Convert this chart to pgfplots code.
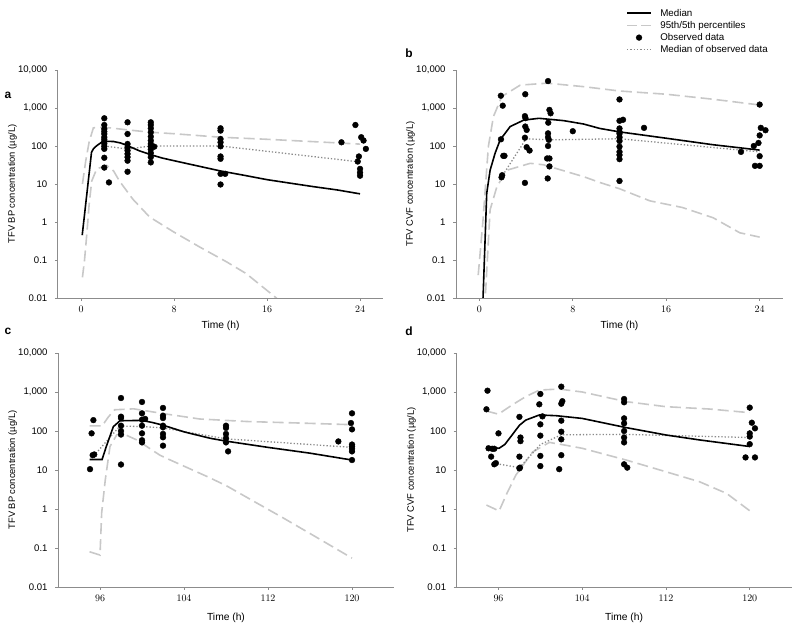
\documentclass[border=0pt]{standalone}
\usepackage{fontspec}
\setmainfont{Liberation Sans}
\usepackage{pgfplots}
\pgfplotsset{compat=1.18}
\definecolor{axgray}{HTML}{8C8C8C}
\definecolor{dgray}{HTML}{C8C8C8}
\definecolor{tgray}{HTML}{8A8A8A}
\pgfplotsset{
  /pgfplots/chartpanel/.style={
    scale only axis,
    axis lines=left, axis line style={draw=axgray, line width=0.8bp, -},
    tick align=outside, major tick length=3bp, tick style={draw=axgray, line width=0.8bp},
    yminorticks=false, xminorticks=false,
    ytick={0.01,0.1,1,10,100,1000,10000},
    yticklabels={0.01,0.1,1,10,100,{1,000},{10,000}},
    ticklabel style={font=\fontsize{9.6}{10}\selectfont, text=black},
    yticklabel style={xshift=-4bp},
    xticklabel style={yshift=-2bp},
    label style={font=\fontsize{9.4}{10}\selectfont, text=black},
    xlabel={Time (h)},
    xlabel style={at={(axis description cs:0.5,0)}, anchor=center, yshift=-28bp, font=\fontsize{10.3}{11}\selectfont},
  },
  /pgfplots/medl/.style={black, line width=1.6bp, mark=none},
  /pgfplots/pctl/.style={dgray, line width=1.6bp, dash pattern=on 11bp off 5bp, mark=none},
  /pgfplots/obsm/.style={only marks, mark=*, mark size=2.9bp, black},
  /pgfplots/omedl/.style={tgray, line width=1.3bp, dash pattern=on 1.3bp off 2bp, mark=none},
  /pgfplots/lineleg/.style={legend image code/.code={\draw[##1] (0bp,0bp) -- (24bp,0bp);}},
  /pgfplots/dotleg/.style={legend image code/.code={\draw[mark repeat=2,mark phase=2,##1] plot coordinates {(0bp,0bp) (12bp,0bp) (24bp,0bp)};}},
}
\begin{document}
\begin{tikzpicture}[x=1bp,y=1bp]
\path[use as bounding box] (0,0) rectangle (800,630);

% ---------------- panel a ----------------
\begin{axis}[ymode=log, ymin=0.01, ymax=10000, chartpanel, at={(57.8bp,332bp)}, anchor=south west, width=325.5bp, height=228bp,
  xmin=-2, xmax=26, xtick={0,8,16,24},
  ylabel={TFV BP concentration (µg/L)},
  ylabel style={at={(axis description cs:-0.139,0.5)}, anchor=center}]
\addplot[pctl] coordinates {(0.12,10) (0.4,40) (0.7,130) (1.06,300) (1.5,310) (2.5,300) (4,265) (6,230) (8,210) (12,170) (16,150) (20,130) (24,112)};
\addplot[pctl] coordinates {(0.12,0.035) (0.3,0.1) (0.5,0.5) (0.7,3) (0.92,12) (1.35,25) (2.2,31) (2.8,22) (3.3,12) (4.45,4) (5.9,1.35) (8,0.54) (10.2,0.22) (12.5,0.09) (14.2,0.044) (16.8,0.01) (17.5,0.006)};
\addplot[omedl] coordinates {(2,100) (4,83) (6,100) (12,100) (24,38)};
\addplot[medl] coordinates {(0.1,0.45) (0.9,68) (1.06,84) (1.35,102) (1.78,126) (2.2,133) (2.8,131) (3.4,120) (4,102) (5,75) (6,59) (7,48) (8,41) (10,30) (12,22) (14,17) (16,13) (18,10.5) (20,8.5) (22,7) (24,5.5)};
\addplot[obsm] coordinates {
(2,536) (2,357) (2,281) (2,240) (2,207) (2,170) (2,150) (2,131) (2,115) (2,98) (2,84) (2,49) (2,27) (2.4,11)
(4,420) (4,207) (4,113) (4,93) (4,76) (4,62) (4,51) (4,41) (4,21)
(6,420) (6,357) (6,292) (6,230) (6,177) (6,139) (6,113) (6,96) (6,81) (6,65) (6,51) (6,37) (6.3,96)
(12,292) (12,254) (12,153) (12,125) (12,98) (12,53) (12,46) (12,18.5) (12,9.7) (12.4,18.5)
(23.6,357) (22.4,125) (24.1,170) (24.3,139) (24.5,84) (23.9,53) (24,25) (24,20) (24,16.5) (23.8,39)};
\end{axis}

% ---------------- panel b ----------------
\begin{axis}[ymode=log, ymin=0.01, ymax=10000, chartpanel, at={(456bp,332bp)}, anchor=south west, width=327bp, height=228bp,
  xmin=-2, xmax=26, xtick={0,8,16,24},
  ylabel={TFV CVF concentration (µg/L)},
  ylabel style={at={(axis description cs:-0.139,0.5)}, anchor=center},
  legend style={draw=none, fill=none, at={(axis description cs:0.52,1.275)}, anchor=north west,
    font=\fontsize{9.8}{11}\selectfont, row sep=0.6bp, inner sep=0pt, nodes={inner sep=1.5bp},
    /tikz/every odd column/.append style={column sep=7bp}},
  legend cell align=left]
\addlegendimage{medl, lineleg}
\addlegendentry{Median}
\addlegendimage{pctl, dash pattern=on 10bp off 4bp, lineleg}
\addlegendentry{95th/5th percentiles}
\addlegendimage{obsm, dotleg}
\addlegendentry{Observed data}
\addlegendimage{omedl, lineleg}
\addlegendentry{Median of observed data}
\addplot[pctl, forget plot] coordinates {(-0.1,0.04) (0.3,1) (0.77,96) (1.2,590) (1.92,2000) (3.5,4000) (5.8,4500) (8.9,3650) (12,2800) (16,2300) (20,1700) (24,1200)};
\addplot[pctl, forget plot] coordinates {(0.45,0.005) (0.92,2.1) (1.5,8.5) (2.35,23) (4.36,35) (5.5,32) (8.95,15.5) (10.3,11) (12,7.5) (14.6,3.6) (17.4,2.4) (20,1.3) (22.3,0.52) (24,0.4)};
\addplot[omedl, forget plot] coordinates {(2,17) (4,155) (6,145) (12,155) (24,70)};
\addplot[medl, forget plot] coordinates {(0.28,0.005) (0.63,5.7) (0.92,23) (1.35,65) (1.78,145) (2.64,325) (3.8,480) (5.1,535) (7.2,465) (8.9,380) (10.3,290) (12,235) (16,160) (20,108) (24,78)};
\addplot[obsm, forget plot] coordinates {
(1.84,2100) (2.0,1150) (1.85,150) (2.05,55) (2.15,55) (1.95,17) (1.9,15)
(3.93,2300) (3.9,610) (3.95,540) (3.93,325) (4.05,265) (3.9,165) (4.05,93) (4.3,76) (3.9,10.7)
(5.88,5100) (6.0,890) (6.1,725) (5.9,410) (5.88,215) (5.88,170) (5.95,145) (5.88,100) (5.8,47) (6.0,47) (6.0,29) (5.85,14)
(8,245)
(12,1680) (12,460) (12.3,490) (12,290) (12,235) (12,210) (12,170) (12,135) (12,96) (12,70) (12,58) (12,45) (12,12)
(14.1,300)
(24,1230) (24.1,300) (24.5,260) (24,190) (23.9,120) (23.5,100) (22.4,70) (24,54) (23.6,30) (24,30)};
\end{axis}

% ---------------- panel c ----------------
\begin{axis}[ymode=log, ymin=0.01, ymax=10000, chartpanel, at={(58bp,43bp)}, anchor=south west, width=336bp, height=234bp,
  xmin=92, xmax=124, xtick={96,104,112,120},
  ylabel={TFV BP concentration (µg/L)},
  ylabel style={at={(axis description cs:-0.135,0.5)}, anchor=center},
  xlabel style={yshift=-3bp}]
\addplot[pctl] coordinates {(95,135) (96.2,135) (96.8,230) (97.4,350) (99.2,370) (102.3,272) (105.5,203) (110,175) (115,160) (120,145)};
\addplot[pctl] coordinates {(95,0.08) (96,0.066) (96.16,0.8) (96.5,5.5) (96.95,40) (97.6,80) (98.2,85) (99.5,59) (101.7,24) (102.7,18) (106.2,6.8) (108,4) (110.6,1.6) (113.4,0.6) (116.9,0.17) (120,0.055)};
\addplot[omedl] coordinates {(95.4,23) (97.9,134) (100,130) (102,120) (108,63) (120,38)};
\addplot[medl] coordinates {(95,18.6) (96.2,18.6) (96.6,40) (97.27,129) (97.9,183) (99.97,187) (101,165) (102,141) (104,95) (106.5,65) (108,55) (112,38) (116,27) (120,18)};
\addplot[obsm] coordinates {
(95.05,10.5) (95.2,87) (95.37,190) (95.3,24) (95.45,25)
(98,700) (98,233) (98,215) (98,137) (98,100) (98,81) (98,13.8)
(100,555) (100,284) (100.3,204) (100,195) (100,137) (100,87) (100,58) (100,51)
(102,390) (102,247) (102,215) (102,137) (102,124) (102,84) (102,69) (102,42)
(108,137) (108,120) (108,84) (108,65) (108,51) (108.2,30)
(118.7,54)
(120,284) (119.9,160) (120,110) (120,45) (120,40) (120,35) (120,30) (120,18)};
\end{axis}

% ---------------- panel d ----------------
\begin{axis}[ymode=log, ymin=0.01, ymax=10000, chartpanel, at={(456.6bp,43bp)}, anchor=south west, width=335bp, height=234bp,
  xmin=92, xmax=124, xtick={96,104,112,120},
  ylabel={TFV CVF concentration (µg/L)},
  ylabel style={at={(axis description cs:-0.135,0.5)}, anchor=center},
  xlabel style={yshift=-3bp}]
\addplot[pctl] coordinates {(94.85,325) (96,270) (97.3,465) (98.6,760) (99.9,1120) (101.8,1190) (104,1000) (108.2,565) (112,420) (116.2,365) (120,295)};
\addplot[pctl] coordinates {(94.85,1.26) (96.06,0.89) (96.8,2.5) (97.66,7.4) (99.26,29) (100.86,51) (102.45,43) (104,36) (108.2,18) (112,9) (115.2,5) (117.8,2.5) (120,0.9)};
\addplot[omedl] coordinates {(95.5,15) (98,11.5) (100,45) (102,80) (108,82) (120,68)};
\addplot[medl] coordinates {(94.85,40) (96.05,36) (96.6,45) (97.3,79) (98,140) (98.6,190) (99.9,257) (101.5,247) (104,210) (108.2,122) (112,79) (115.2,59) (120,40)};
\addplot[obsm] coordinates {
(94.95,1080) (94.85,360) (95.05,36) (95.4,35) (95.6,35) (95.3,22) (95.6,14) (95.75,15) (96,87)
(98,230) (98.1,68) (98.1,55) (98,22) (98,11) (98.05,11.5)
(100,890) (99.9,483) (100.2,237) (100,148) (100,76) (100,23) (100,12.6)
(102,1370) (102,500) (102.1,580) (102,184) (102,96) (102,61) (102,24) (101.8,10.5)
(108,660) (108,545) (108,211) (108,157) (108,100) (108,68) (108,51) (108,14) (108.3,11.5)
(120,397) (120.2,163) (120.5,117) (120,87) (120,72) (120,46) (119.6,21) (120.5,21)};
\end{axis}

\node[font=\fontsize{12}{12}\selectfont\bfseries] at (8,535) {a};
\node[font=\fontsize{12}{12}\selectfont\bfseries] at (409,577) {b};
\node[font=\fontsize{12}{12}\selectfont\bfseries] at (8,299) {c};
\node[font=\fontsize{12}{12}\selectfont\bfseries] at (409,299) {d};
\end{tikzpicture}
\end{document}
